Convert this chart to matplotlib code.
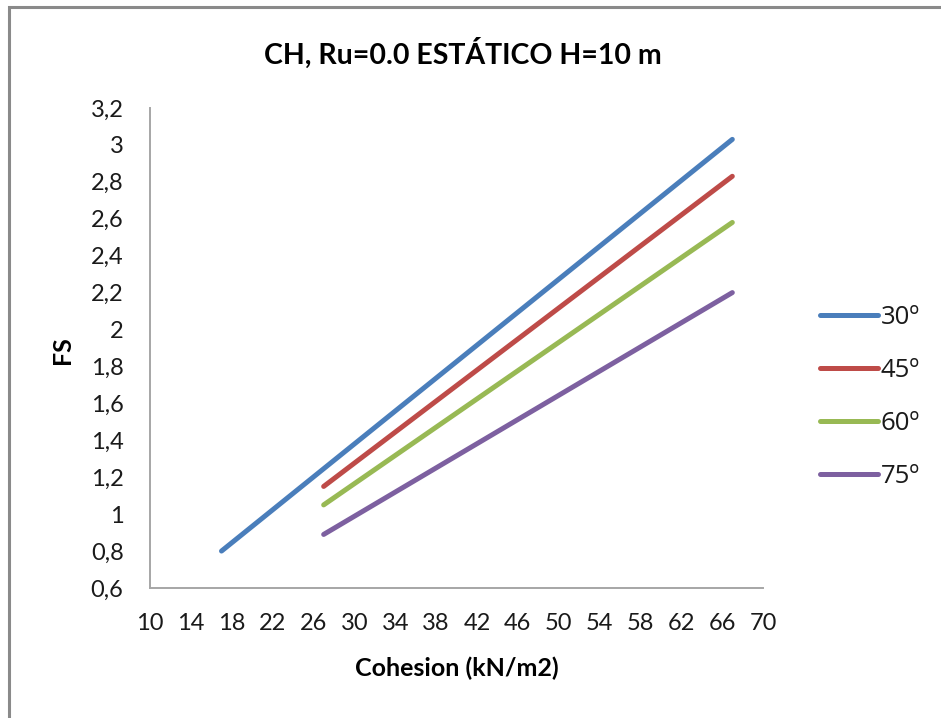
import numpy as np
import matplotlib.pyplot as plt
from matplotlib.ticker import FuncFormatter, MultipleLocator, FixedLocator
from matplotlib.patches import Rectangle

plt.rcParams['font.family'] = ['Lato', 'DejaVu Sans']

# FS vs cohesion for each slope angle (end points of each run)
labels = ['30º', '45º', '60º', '75º']
cohesion = [[17, 67], [27, 67], [27, 67], [27, 67]]
fs = [[0.80, 3.03], [1.15, 2.83], [1.05, 2.58], [0.89, 2.20]]
colors = ['#4A7EBB', '#BE4B48', '#98B954', '#7D60A0']
xticks = np.arange(10, 71, 4)

fig = plt.figure(figsize=(9.41, 7.18), dpi=100)
ax = fig.add_axes([0.1594, 0.1811, 0.6514, 0.6685])

for c, f, lab, col in zip(cohesion, fs, labels, colors):
    ax.plot(c, f, color=col, lw=3.6, solid_capstyle='round', label=lab)

ax.set_xlim(10, 70)
ax.set_ylim(0.6, 3.2)
ax.xaxis.set_major_locator(FixedLocator(xticks))
ax.yaxis.set_major_locator(MultipleLocator(0.2))
ax.yaxis.set_major_formatter(FuncFormatter(lambda v, p: ('%g' % round(v, 2)).replace('.', ',')))
ax.tick_params(length=0, labelsize=17, colors='#1a1a1a')
ax.tick_params(axis='x', pad=18)
ax.tick_params(axis='y', pad=19)

for s in ['top', 'right']:
    ax.spines[s].set_visible(False)
for s in ['left', 'bottom']:
    ax.spines[s].set_color('#a6a6a6')
    ax.spines[s].set_linewidth(1.4)

fig.text(463 / 941, 1 - 53 / 718, 'CH, Ru=0.0 ESTÁTICO H=10 m', ha='center', va='center',
         fontsize=20.5, fontweight='bold')
fig.text(457 / 941, 1 - 668 / 718, 'Cohesion (kN/m2)', ha='center', va='center',
         fontsize=18, fontweight='bold')
fig.text(63 / 941, 1 - 350 / 718, 'FS', ha='center', va='center', rotation=90,
         fontsize=18, fontweight='bold')

leg = ax.legend(loc='center left', bbox_to_anchor=(820 / 941, 1 - 397 / 718),
                bbox_transform=fig.transFigure, frameon=False,
                prop={'family': ['Open Sans', 'DejaVu Sans'], 'size': 18.5},
                handlelength=2.25, handletextpad=0.12, labelspacing=1.08,
                borderaxespad=0, borderpad=0)
for t in leg.get_texts():
    t.set_color('#1a1a1a')

# outer chart border
fig.patches.append(Rectangle((9 / 941, -0.1), 2, 1 - 7 / 718 + 0.1, transform=fig.transFigure,
                             fill=False, edgecolor='#8a8a8a', lw=2.2))

fig.savefig('out.png', dpi=100)
